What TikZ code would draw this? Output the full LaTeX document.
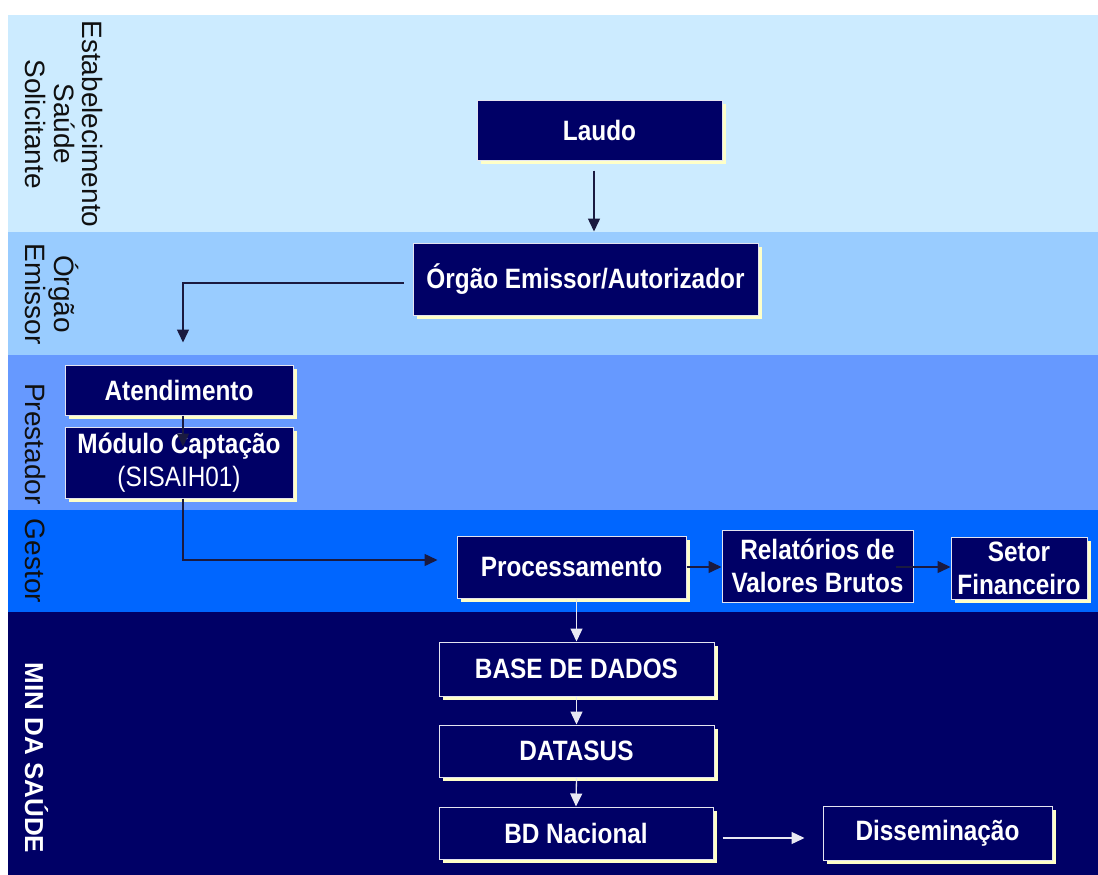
\documentclass[tikz,border=0pt]{standalone}
\usepackage{fontspec}
\setmainfont{Liberation Sans}
\newfontfamily\boxfont[FakeStretch=0.87]{Liberation Sans}
\usetikzlibrary{arrows.meta,shadows,calc}

\definecolor{bandA}{HTML}{CCEBFF}
\definecolor{bandB}{HTML}{99CCFF}
\definecolor{bandC}{HTML}{6699FF}
\definecolor{bandD}{HTML}{0066FF}
\definecolor{bandE}{HTML}{000066}
\definecolor{boxfill}{HTML}{000066}
\definecolor{boxline}{HTML}{E4E4F0}
\definecolor{cream}{HTML}{FFFFC8}
\definecolor{darkline}{HTML}{1A1A40}
\definecolor{labeltext}{HTML}{101010}
\definecolor{lightline}{HTML}{E8E8F2}

\tikzset{
  plainbox/.style={draw=boxline, line width=1pt, fill=boxfill, text=white,
    inner sep=0pt, align=center,
    font={\boxfont\bfseries\fontsize{28}{33}\selectfont}},
  stagebox/.style={plainbox,
    drop shadow={shadow xshift=3.5pt, shadow yshift=-3.5pt, fill=cream, opacity=1}},
  lanelabel/.style={rotate=-90, anchor=base, inner sep=0pt, align=center,
    text=labeltext, font={\fontsize{28}{29}\selectfont}},
  darr/.style={draw=darkline, line width=1.5pt,
    -{Triangle[length=13pt,width=12pt]}},
  warr/.style={draw=lightline, line width=1.3pt,
    -{Triangle[length=13pt,width=12pt]}},
}

\begin{document}
\begin{tikzpicture}[x=1pt, y=-1pt]
  \useasboundingbox (0,0) rectangle (1098,875);

  % horizontal swim lanes
  \fill[bandA] (8,15)  rectangle (1098,232);
  \fill[bandB] (8,232) rectangle (1098,355);
  \fill[bandC] (8,355) rectangle (1098,510);
  \fill[bandD] (8,510) rectangle (1098,612);
  \fill[bandE] (8,612) rectangle (1098,875);

  % lane titles
  \node[lanelabel] (lblA) at (25,124) {Estabelecimento\\Saúde\\Solicitante};
  \node[lanelabel] (lblB) at (25,294) {Órgão\\Emissor};
  \node[lanelabel] (lblC) at (25,444) {Prestador};
  \node[lanelabel] (lblD) at (25,561) {Gestor};
  \node[lanelabel, text=white, font={\bfseries\fontsize{26}{28}\selectfont}]
    (lblE) at (25,758) {MIN DA SAÚDE};

  % process steps
  \node[stagebox, minimum width=245pt, minimum height=60pt] (laudo) at (599.5,130) {Laudo};
  \node[stagebox, minimum width=345pt, minimum height=72pt] (orgao) at (585.5,279) {Órgão Emissor/Autorizador};
  \node[stagebox, minimum width=228pt, minimum height=50pt] (atend) at (179,390) {Atendimento};
  \node[stagebox, minimum width=228pt, minimum height=71pt] (modulo) at (179,462.5)
    {Módulo Captação\\{\mdseries (SISAIH01)}};
  \node[stagebox, minimum width=229pt, minimum height=62pt] (proc) at (571.5,567) {Processamento};
  \node[plainbox, minimum width=191pt, minimum height=72pt] (rel) at (817.5,566)
    {Relatórios de\\Valores Brutos};
  \node[stagebox, minimum width=136pt, minimum height=62pt] (setor) at (1019,568)
    {Setor\\Financeiro};
  \node[stagebox, minimum width=275pt, minimum height=54pt] (base) at (576.5,669) {BASE DE DADOS};
  \node[stagebox, minimum width=275pt, minimum height=52pt] (datasus) at (576.5,751) {DATASUS};
  \node[stagebox, minimum width=274pt, minimum height=52pt] (bdnac) at (576,833) {BD Nacional};
  \node[stagebox, minimum width=229pt, minimum height=54pt] (dissem) at (937.5,833) {Disseminação};

  % flow in the upper lanes
  \draw[darr, shorten <=10pt, shorten >=11pt]
    ([xshift=-5.5pt]laudo.south) -- ([xshift=-5.5pt]laudo.south |- orgao.north);
  \draw[darr, shorten <=9pt, shorten >=22pt]
    ([yshift=-4pt]orgao.west) -| ([xshift=4pt]atend.north);
  \draw[darr, shorten >=-20pt]
    ([xshift=4pt]atend.south) -- ([xshift=4pt]modulo.north);
  \draw[darr, shorten >=19pt]
    ([xshift=4pt]modulo.south) |- ([yshift=7pt]proc.west);
  \draw[darr] (proc.east) -- (proc.east -| rel.west);
  \draw[darr, shorten <=-18pt] ([yshift=-1pt]rel.east) -- ([yshift=-1pt]rel.east -| setor.west);

  % flow in the ministry lane
  \draw[warr] (proc.south -| base.north) -- (base.north);
  \draw[warr] (base.south) -- (datasus.north);
  \draw[warr] (datasus.south) -- (bdnac.north);
  \draw[warr, shorten <=9pt, shorten >=18pt]
    ([yshift=-5pt]bdnac.east) -- ([yshift=-5pt]bdnac.east -| dissem.west);
\end{tikzpicture}
\end{document}
